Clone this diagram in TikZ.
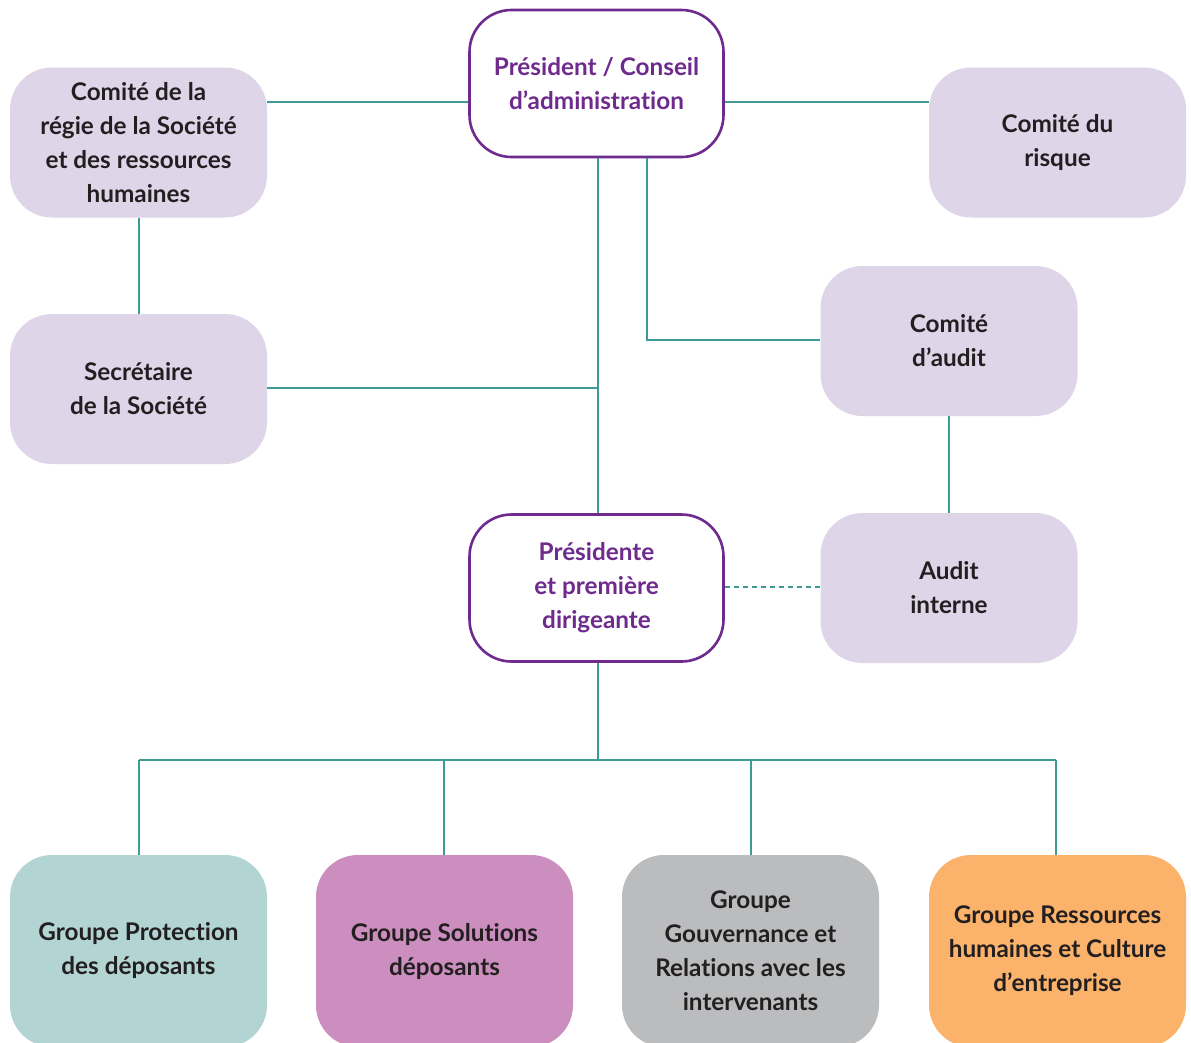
\documentclass[tikz,border=0pt]{standalone}
\usepackage{fontspec}
\setmainfont{Lato}[Ligatures=NoCommon]
\definecolor{lineteal}{HTML}{3E9A95}
\definecolor{purp}{HTML}{6E2A8D}
\definecolor{lav}{HTML}{DED5E9}
\definecolor{tealbox}{HTML}{B2D4D3}
\definecolor{pinkbox}{HTML}{CB8EBE}
\definecolor{graybox}{HTML}{BBBCBE}
\definecolor{orangebox}{HTML}{FBB36B}
\definecolor{txt}{HTML}{231F20}
\begin{document}
\begin{tikzpicture}[x=1pt,y=-1pt,
  box/.style={rectangle,rounded corners=42pt,minimum width=257pt,minimum height=150pt,
    align=center,font=\fontsize{24.3}{34}\selectfont\bfseries,text=txt,inner sep=0pt},
  lavbox/.style={box,fill=lav},
  whitebox/.style={box,fill=white,draw=purp,line width=2.6pt,text=purp,minimum width=254pt,minimum height=147pt},
  conn/.style={draw=lineteal,line width=1.4pt},
  dconn/.style={conn,dash pattern=on 5pt off 4pt}]
\useasboundingbox (0,0) rectangle (1191,1042);
\clip (0,0) rectangle (1191,1042);
\fill[white] (0,0) rectangle (1191,1042);
% nodes
\node[whitebox] (pres) at (596.5,83.5) {Président / Conseil\\d’administration};
\node[lavbox] (regie) at (138.5,142.5) {Comité de la\\régie de la Société\\et des ressources\\humaines};
\node[lavbox] (risque) at (1057.5,142.5) {Comité du\\risque};
\node[lavbox] (audit) at (949,341) {Comité\\d’audit};
\node[lavbox] (secr) at (138.5,389) {Secrétaire\\de la Société};
\node[whitebox] (pdg) at (596.5,588) {Présidente\\et première\\dirigeante};
\node[lavbox] (ai) at (949,588) {Audit\\interne};
\node[box,fill=tealbox,minimum height=192pt] (g1) at (138.5,951) {Groupe Protection\\des déposants};
\node[box,fill=pinkbox,minimum height=192pt] (g2) at (444.5,951) {Groupe Solutions\\déposants};
\node[box,fill=graybox,minimum height=192pt] (g3) at (750.5,951) {Groupe\\Gouvernance et\\Relations avec les\\intervenants};
\node[box,fill=orangebox,minimum height=192pt] (g4) at (1057.5,951) {Groupe Ressources\\humaines et Culture\\d’entreprise};
% coordinates
\coordinate (jsec) at (598,388);
\coordinate (jaud) at (647,340);
\coordinate (jbot) at (598,760);
\coordinate (b1) at (139,760);
\coordinate (b2) at (444,760);
\coordinate (b3) at (751,760);
\coordinate (b4) at (1056,760);
% connectors
\path[conn] (pres.west |- 0,102) -- (regie.east |- 0,102);
\path[conn] (pres.east |- 0,102) -- (risque.west |- 0,102);
\path[conn] (regie.south -| 139,0) -- (secr.north -| 139,0);
\path[conn] (pres.south -| 598,0) -- (pdg.north -| 598,0);
\path[conn] (secr.east |- jsec) -- (jsec);
\path[conn] (pres.south -| jaud) -- (jaud) -- (audit.west |- jaud);
\path[conn] (audit.south) -- (ai.north);
\path[dconn] (pdg.east |- 0,587) -- (ai.west |- 0,587);
\path[conn] (pdg.south -| jbot) -- (jbot);
\path[conn] (b1) -- (b4);
\path[conn] (b1) -- (g1.north -| b1);
\path[conn] (b2) -- (g2.north -| b2);
\path[conn] (b3) -- (g3.north -| b3);
\path[conn] (b4) -- (g4.north -| b4);
\end{tikzpicture}
\end{document}
